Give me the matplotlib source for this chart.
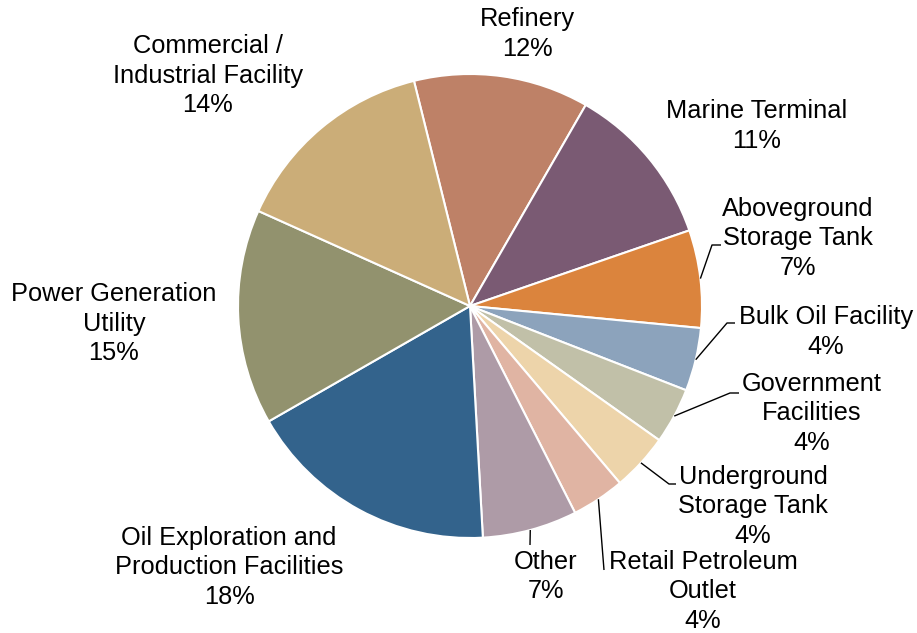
import numpy as np
import matplotlib
matplotlib.use("Agg")
import matplotlib.pyplot as plt

# ---- data ----
categories = ["Refinery", "Marine Terminal", "Aboveground\nStorage Tank", "Bulk Oil Facility",
              "Government\nFacilities", "Underground\nStorage Tank", "Retail Petroleum\nOutlet",
              "Other", "Oil Exploration and\nProduction Facilities", "Power Generation\nUtility",
              "Commercial /\nIndustrial Facility"]
values = [12.2, 11.4, 6.8, 4.4, 3.9, 4.0, 3.7, 6.6, 17.6, 15.0, 14.4]
pct_labels = ["12%", "11%", "7%", "4%", "4%", "4%", "4%", "7%", "18%", "15%", "14%"]
colors = ["#BE8167", "#7A5A73", "#DB843D", "#8CA3BC", "#C1C0A8", "#EDD4AA",
          "#E0B4A3", "#AE9BA7", "#33638C", "#92926E", "#CBAD78"]

# ---- layout (pixel positions of label centres; elbow points for leaders) ----
W, H = 917, 633
CX, CY, R = 470, 306, 232
label_pos = [(527, 34), (757, 126), (798, 238.5), (826, 332), (812, 413.5),
             (753, 506.5), (703, 591.5), (546, 576.5), (229, 567.5), (114, 323.5), (208, 75.5)]
# leader: (elbow, end) in pixels, or None
leaders = [None, None, ((712, 245), (721, 245)), ((727, 323), (735, 323)),
           ((730, 393), (739, 393)), ((669, 484), (676, 484)),
           ((604, 570), None), ((530, 545), None), None, None, None]

def px(x, y):
    return (x - CX) / R, (CY - y) / R

plt.rcParams['font.family'] = ['Liberation Sans', 'DejaVu Sans']
fig = plt.figure(figsize=(W / 100, H / 100), dpi=100)
ax = fig.add_axes([0, 0, 1, 1])
wedges, _ = ax.pie(values, colors=colors, startangle=103.98, counterclock=False,
                   radius=1.0, wedgeprops=dict(edgecolor="white", linewidth=1.5))
ax.set_xlim(-CX / R, (W - CX) / R)
ax.set_ylim((CY - H) / R, CY / R)
ax.set_aspect('equal')
ax.axis('off')

for i, (cat, pct) in enumerate(zip(categories, pct_labels)):
    x, y = px(*label_pos[i])
    ax.text(x, y, cat + "\n" + pct, ha='center', va='center', multialignment='center',
            fontsize=18.3, color='black', linespacing=1.3)
    if leaders[i] is not None:
        w = wedges[i]
        mid = np.deg2rad((w.theta1 + w.theta2) / 2)
        sx, sy = np.cos(mid), np.sin(mid)
        pts = [(sx, sy), px(*leaders[i][0])]
        if leaders[i][1] is not None:
            pts.append(px(*leaders[i][1]))
        xs, ys = zip(*pts)
        ax.plot(xs, ys, color='black', linewidth=1.0, solid_capstyle='butt')

fig.savefig("out.png", dpi=100)
